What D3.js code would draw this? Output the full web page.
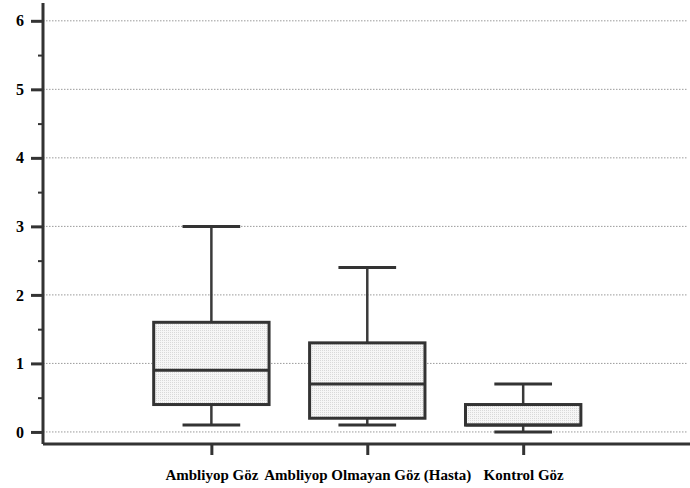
<!DOCTYPE html>
<html>
<head>
<meta charset="utf-8">
<script src="https://cdn.jsdelivr.net/npm/d3@7"></script>
<style>
  body { margin: 0; background: #fff; }
</style>
</head>
<body>
<div id="chart"></div>
<script>
const categories = ["Ambliyop Göz", "Ambliyop Olmayan Göz (Hasta)", "Kontrol Göz"]
const whiskerLow = [0.1, 0.1, 0.0]
const q1 = [0.4, 0.2, 0.1]
const median = [0.9, 0.7, 0.1]
const q3 = [1.6, 1.3, 0.4]
const whiskerHigh = [3.0, 2.4, 0.7]
const yTicks = [0, 1, 2, 3, 4, 5, 6]
const yMinor = [0.5, 1.5, 2.5, 3.5, 4.5, 5.5]

const W = 690, H = 488
const LEFT = 43, BOTTOM = 444, TOP = 3, RIGHT = 690
const FONT = "'Liberation Serif', 'Times New Roman', Times, serif"

const svg = d3.select("#chart").append("svg")
  .attr("width", W).attr("height", H)

const defs = svg.append("defs")
const pat = defs.append("pattern")
  .attr("id", "dots").attr("width", 2).attr("height", 2)
  .attr("patternUnits", "userSpaceOnUse")
pat.append("rect").attr("width", 2).attr("height", 2).attr("fill", "#f6f6f6")
pat.append("rect").attr("width", 1).attr("height", 1).attr("fill", "#d9d9d9")

// scales
const x = d3.scaleLinear().domain([-0.08, 4.07]).range([LEFT, RIGHT])
const y = d3.scaleLinear().domain([-0.176, 6.26]).range([BOTTOM, TOP])

const data = categories.map((c, i) => ({
  name: c, pos: i + 1,
  lo: whiskerLow[i], q1: q1[i], med: median[i], q3: q3[i], hi: whiskerHigh[i]
}))

// grid
svg.append("g").selectAll("line")
  .data(yTicks)
  .join("line")
    .attr("x1", LEFT).attr("x2", 688)
    .attr("y1", d => y(d)).attr("y2", d => y(d))
    .attr("stroke", "#9a9a9a")
    .attr("stroke-width", 1)
    .attr("stroke-dasharray", "1.5,1.5")

// boxes
const boxW = 0.74
const capW = 0.37
const g = svg.append("g")
data.forEach(d => {
  g.append("line")
    .attr("x1", x(d.pos)).attr("x2", x(d.pos))
    .attr("y1", y(d.hi)).attr("y2", y(d.lo))
    .attr("stroke", "#3a3a3a").attr("stroke-width", 2.5)
  g.append("line")
    .attr("x1", x(d.pos - capW / 2)).attr("x2", x(d.pos + capW / 2))
    .attr("y1", y(d.hi)).attr("y2", y(d.hi))
    .attr("stroke", "#333").attr("stroke-width", 3)
  g.append("line")
    .attr("x1", x(d.pos - capW / 2)).attr("x2", x(d.pos + capW / 2))
    .attr("y1", y(d.lo)).attr("y2", y(d.lo))
    .attr("stroke", "#333").attr("stroke-width", 3)
  g.append("rect")
    .attr("x", x(d.pos - boxW / 2))
    .attr("width", x(d.pos + boxW / 2) - x(d.pos - boxW / 2))
    .attr("y", y(d.q3))
    .attr("height", y(d.q1) - y(d.q3))
    .attr("fill", "url(#dots)")
    .attr("stroke", "#333").attr("stroke-width", 3)
  g.append("line")
    .attr("x1", x(d.pos - boxW / 2)).attr("x2", x(d.pos + boxW / 2))
    .attr("y1", y(d.med)).attr("y2", y(d.med))
    .attr("stroke", "#333").attr("stroke-width", 3)
})

// axes
const yAxis = svg.append("g")
  .attr("transform", `translate(${LEFT},0)`)
  .call(d3.axisLeft(y).tickValues(yTicks).tickSize(12).tickPadding(7).tickFormat(d3.format("d")))
const yMinorAxis = svg.append("g")
  .attr("transform", `translate(${LEFT},0)`)
  .call(d3.axisLeft(y).tickValues(yMinor).tickSize(5).tickFormat(""))

const xAxis = svg.append("g")
  .attr("transform", `translate(0,${BOTTOM})`)
  .call(d3.axisBottom(x).tickValues([1, 2, 3]).tickSize(11).tickPadding(14)
    .tickFormat((d, i) => categories[i]))

;[yAxis, yMinorAxis, xAxis].forEach(a => {
  a.attr("font-family", FONT).attr("font-weight", "bold")
  a.select(".domain").attr("stroke", "#333").attr("stroke-width", 3)
  a.selectAll(".tick line").attr("stroke", "#333").attr("stroke-width", 3)
  a.selectAll("text").attr("fill", "#000")
    .style("font-family", FONT).style("font-weight", "bold")
})
yMinorAxis.selectAll(".tick line").attr("stroke-width", 2)
yAxis.select(".domain").attr("d", `M0,${TOP}V${BOTTOM}`)
yMinorAxis.select(".domain").remove()
xAxis.select(".domain").attr("d", `M${LEFT},0H${RIGHT}`)

yAxis.attr("font-size", 16)
yAxis.selectAll("text").style("font-size", "16px")
xAxis.attr("font-size", 15)
xAxis.selectAll("text").style("font-size", "15px")
</script>
</body>
</html>
